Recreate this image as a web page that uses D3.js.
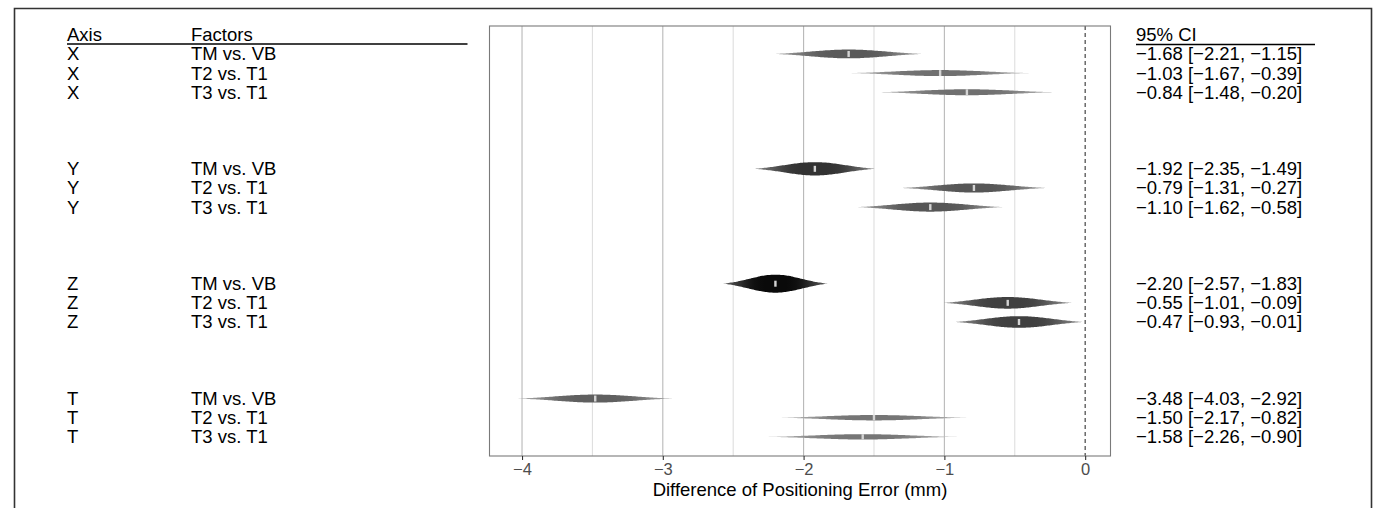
<!DOCTYPE html>
<html>
<head>
<meta charset="utf-8">
<script src="https://cdn.jsdelivr.net/npm/d3@7/dist/d3.min.js"></script>
<style>
  html, body { margin: 0; padding: 0; background: #fff; }
  svg { display: block; }
  text { font-family: "Liberation Sans", Arial, Helvetica, sans-serif; }
</style>
</head>
<body>
<svg id="chart" width="1381" height="508"></svg>
<script>
// ---- data ----
const groups = ["X", "Y", "Z", "T"];
const factors = ["TM vs. VB", "T2 vs. T1", "T3 vs. T1"];
const estimates = [-1.68, -1.03, -0.84, -1.92, -0.79, -1.10, -2.20, -0.55, -0.47, -3.48, -1.50, -1.58];
const lowers    = [-2.21, -1.67, -1.48, -2.35, -1.31, -1.62, -2.57, -1.01, -0.93, -4.03, -2.17, -2.26];
const uppers    = [-1.15, -0.39, -0.20, -1.49, -0.27, -0.58, -1.83, -0.09, -0.01, -2.92, -0.82, -0.90];
const xTicks = [-4, -3, -2, -1, 0];
const xMinor = [-3.5, -2.5, -1.5, -0.5];
const xTitle = "Difference of Positioning Error (mm)";
const headers = { axis: "Axis", factors: "Factors", ci: "95% CI" };

const rows = [];
groups.forEach((g, gi) => factors.forEach((f, fi) => {
  const i = gi * 3 + fi;
  rows.push({ axis: g, factor: f, est: estimates[i], lo: lowers[i], hi: uppers[i], row: gi * 6 + fi, i });
}));

const svg = d3.select("#chart");
const fmt = v => d3.format(".2f")(v).replace("-", "\u2212");

// ---- scales ----
const panel = { left: 489.5, right: 1110.5, top: 26, bottom: 456 };
const x = d3.scaleLinear().domain([-4.231, 0.18]).range([panel.left, panel.right]);
const y = d3.scaleLinear().domain([-1.46, 21]).range([panel.top, panel.bottom]);

rows.forEach(d => { const se = (d.hi - d.lo) / 3.92; d.prec = 1 / (se * se); });
const hScale = d3.scaleLinear().domain([0, 28]).range([0, 18]);
const grayScale = d3.scaleLinear().domain([8.3, 28]).range([118, 10]).clamp(true);

// ---- outer frame ----
svg.append("path")
  .attr("d", "M14.5,508 L14.5,8.5 L1371.5,8.5 L1371.5,508")
  .attr("fill", "none").attr("stroke", "#333").attr("stroke-width", 1.6);

// ---- panel gridlines ----
const gp = svg.append("g");
gp.selectAll("line.minor").data(xMinor).join("line")
  .attr("x1", d => x(d)).attr("x2", d => x(d))
  .attr("y1", panel.top).attr("y2", panel.bottom)
  .attr("stroke", "#dedede").attr("stroke-width", 1.1);
gp.selectAll("line.major").data(xTicks.filter(t => t !== 0)).join("line")
  .attr("x1", d => x(d)).attr("x2", d => x(d))
  .attr("y1", panel.top).attr("y2", panel.bottom)
  .attr("stroke", "#b8b8b8").attr("stroke-width", 1.1);

// zero reference dashed line
gp.append("line")
  .attr("x1", x(0)).attr("x2", x(0))
  .attr("y1", panel.top).attr("y2", panel.bottom)
  .attr("stroke", "#333").attr("stroke-width", 1.1)
  .attr("stroke-dasharray", "4,3");

// ---- eye-shaped marks ----
const defs = svg.append("defs");
const tail = Math.exp(-1.96 * 1.96 / 2);
const dens = z => Math.max(0, (Math.exp(-z * z / 2) - tail) / (1 - tail));
const zs = d3.range(-1.96, 1.9601, 0.049);

rows.forEach(d => {
  const g = Math.round(grayScale(d.prec));
  const core = d3.rgb(g, g, g);
  const lv = Math.min(225, g + 100);
  const light = d3.rgb(lv, lv, lv);
  const grad = defs.append("linearGradient").attr("id", "grad" + d.i)
    .attr("x1", "0%").attr("x2", "100%").attr("y1", "0%").attr("y2", "0%");
  d3.range(0, 21).forEach(k => {
    const z = -1.96 + k * 3.92 / 20;
    const t = Math.pow(1 - dens(z), 2.2);
    grad.append("stop").attr("offset", (k * 5) + "%")
      .attr("stop-color", d3.interpolateRgb(core, light)(t * 0.85));
  });
});

const marks = svg.append("g");
const area = d3.area()
  .x(p => p[0]).y0(p => p[1]).y1(p => p[2]).curve(d3.curveMonotoneX);

rows.forEach(d => {
  const se = (d.hi - d.lo) / 3.92;
  const half = hScale(d.prec) / 2;
  const cy = y(d.row);
  const pts = zs.map(z => {
    const xv = d.est + z * se;
    const h = half * dens(z);
    return [x(xv), cy - h, cy + h];
  });
  marks.append("path").attr("d", area(pts)).attr("fill", `url(#grad${d.i})`);
  const mh = Math.min(6, half * 2);
  marks.append("rect")
    .attr("x", x(d.est) - 1.2).attr("width", 2.4)
    .attr("y", cy - mh / 2).attr("height", mh)
    .attr("fill", "#d4d4d4");
});

// panel border
svg.append("rect")
  .attr("x", panel.left).attr("y", panel.top)
  .attr("width", panel.right - panel.left).attr("height", panel.bottom - panel.top)
  .attr("fill", "none").attr("stroke", "#7a7a7a").attr("stroke-width", 1.1);

// ---- x axis ----
const axisG = svg.append("g").attr("transform", `translate(0,${panel.bottom})`)
  .call(d3.axisBottom(x).tickValues(xTicks).tickSize(4).tickPadding(3)
    .tickFormat(v => String(v).replace("-", "\u2212")));
axisG.select(".domain").remove();
axisG.selectAll(".tick line").attr("stroke", "#333").attr("stroke-width", 1.1);
axisG.selectAll(".tick text")
  .attr("fill", "#4d4d4d").style("font-size", "16.5px")
  .style("font-family", '"Liberation Sans", Arial, sans-serif');

svg.append("text")
  .attr("x", (panel.left + panel.right) / 2).attr("y", 496)
  .attr("text-anchor", "middle").attr("fill", "#000")
  .style("font-size", "18.5px").text(xTitle);

// ---- left table ----
const fs = "18.5px";
const colAxis = 67, colFactor = 191, colCI = 1136;
const tbl = svg.append("g").style("font-size", fs).attr("fill", "#000");

tbl.append("text").attr("x", colAxis).attr("y", y(-1)).attr("dy", "0.35em").text(headers.axis);
tbl.append("text").attr("x", colFactor).attr("y", y(-1)).attr("dy", "0.35em").text(headers.factors);
svg.append("line").attr("x1", colAxis).attr("x2", 467.5).attr("y1", 44).attr("y2", 44)
  .attr("stroke", "#000").attr("stroke-width", 1.3);

tbl.selectAll("text.axis").data(rows).join("text")
  .attr("class", "axis").attr("x", colAxis).attr("y", d => y(d.row)).attr("dy", "0.35em")
  .text(d => d.axis);
tbl.selectAll("text.factor").data(rows).join("text")
  .attr("class", "factor").attr("x", colFactor).attr("y", d => y(d.row)).attr("dy", "0.35em")
  .text(d => d.factor);

// ---- right table ----
tbl.append("text").attr("x", colCI).attr("y", y(-1)).attr("dy", "0.35em").text(headers.ci);
svg.append("line").attr("x1", colCI).attr("x2", 1315).attr("y1", 44.5).attr("y2", 44.5)
  .attr("stroke", "#000").attr("stroke-width", 1.3);
tbl.selectAll("text.ci").data(rows).join("text")
  .attr("class", "ci").attr("x", colCI).attr("y", d => y(d.row)).attr("dy", "0.35em")
  .text(d => `${fmt(d.est)} [${fmt(d.lo)}, ${fmt(d.hi)}]`);
</script>
</body>
</html>
